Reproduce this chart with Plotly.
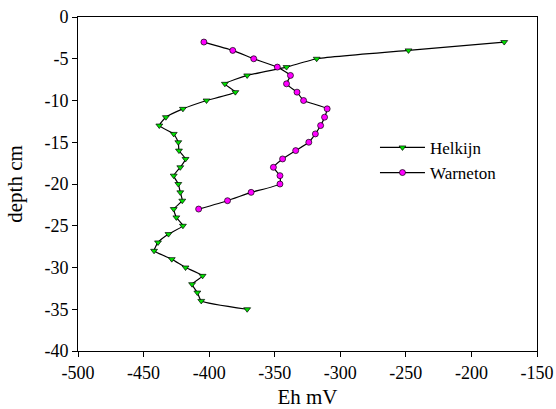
import plotly.graph_objects as go

# Helkijn
helkijn_depth = [-3, -4, -5, -6, -7, -8, -9, -10, -11, -12, -13, -14, -15, -16, -17, -18, -19, -20,
                 -21, -22, -23, -24, -25, -26, -27, -28, -29, -30, -31, -32, -33, -34, -35]
helkijn_eh = [-175, -248, -318, -341, -371, -388, -380, -402, -420, -433, -438, -427, -423.5, -423, -418,
              -422, -427, -423.5, -422, -420.5, -427, -425, -420, -431, -439, -442, -428.5, -418, -405,
              -413, -409, -406, -371]

# Warneton
warneton_depth = [-3, -4, -5, -6, -7, -8, -9, -10, -11, -12, -13, -14, -15, -16, -17, -18, -19, -20,
                  -21, -22, -23]
warneton_eh = [-404, -382, -366, -348, -338, -341, -333, -328, -310, -312, -315, -319, -324, -334, -344,
               -351, -346, -346, -368, -386, -408]

x_ticks = [-500, -450, -400, -350, -300, -250, -200, -150]
y_ticks = [0, -5, -10, -15, -20, -25, -30, -35, -40]

FONT = "Liberation Serif, Times New Roman, serif"

fig = go.Figure()
fig.add_trace(go.Scatter(
    x=helkijn_eh, y=helkijn_depth, name="Helkijn", mode="lines+markers",
    line=dict(color="black", width=1.2, shape="spline", smoothing=0.4),
    marker=dict(symbol="triangle-down", size=6, color="#00e000", line=dict(color="black", width=0.7)),
))
fig.add_trace(go.Scatter(
    x=warneton_eh, y=warneton_depth, name="Warneton", mode="lines+markers",
    line=dict(color="black", width=1.2, shape="spline", smoothing=0.4),
    marker=dict(symbol="circle", size=6, color="#ff00ff", line=dict(color="black", width=0.7)),
))

axis_common = dict(
    showgrid=False, zeroline=False, showline=True, linecolor="black", linewidth=1,
    mirror=True, ticks="outside", ticklen=5, tickcolor="black", tickwidth=1, automargin=False,
    tickfont=dict(family=FONT, size=18, color="black"),
)

fig.update_layout(
    width=556, height=409,
    margin=dict(l=78, r=19, t=17, b=58),
    paper_bgcolor="white", plot_bgcolor="white",
    font=dict(family=FONT, color="black"),
    xaxis=dict(range=[-500, -150], tickvals=x_ticks, ticktext=[str(v) for v in x_ticks],
               title=dict(text="Eh mV", font=dict(family=FONT, size=21), standoff=9), **axis_common),
    yaxis=dict(range=[-40, 0], tickvals=y_ticks, ticktext=[str(v) for v in y_ticks],
               title=dict(text="depth cm", font=dict(family=FONT, size=21), standoff=16), **axis_common),
    legend=dict(x=0.647, y=0.662, xanchor="left", yanchor="top", bgcolor="rgba(0,0,0,0)",
                font=dict(family=FONT, size=17), tracegroupgap=0, itemwidth=45),
    showlegend=True,
)

fig.write_html("out.html", config={"displayModeBar": False},
               post_script="document.body.style.margin='0px';document.body.style.padding='0px';")
